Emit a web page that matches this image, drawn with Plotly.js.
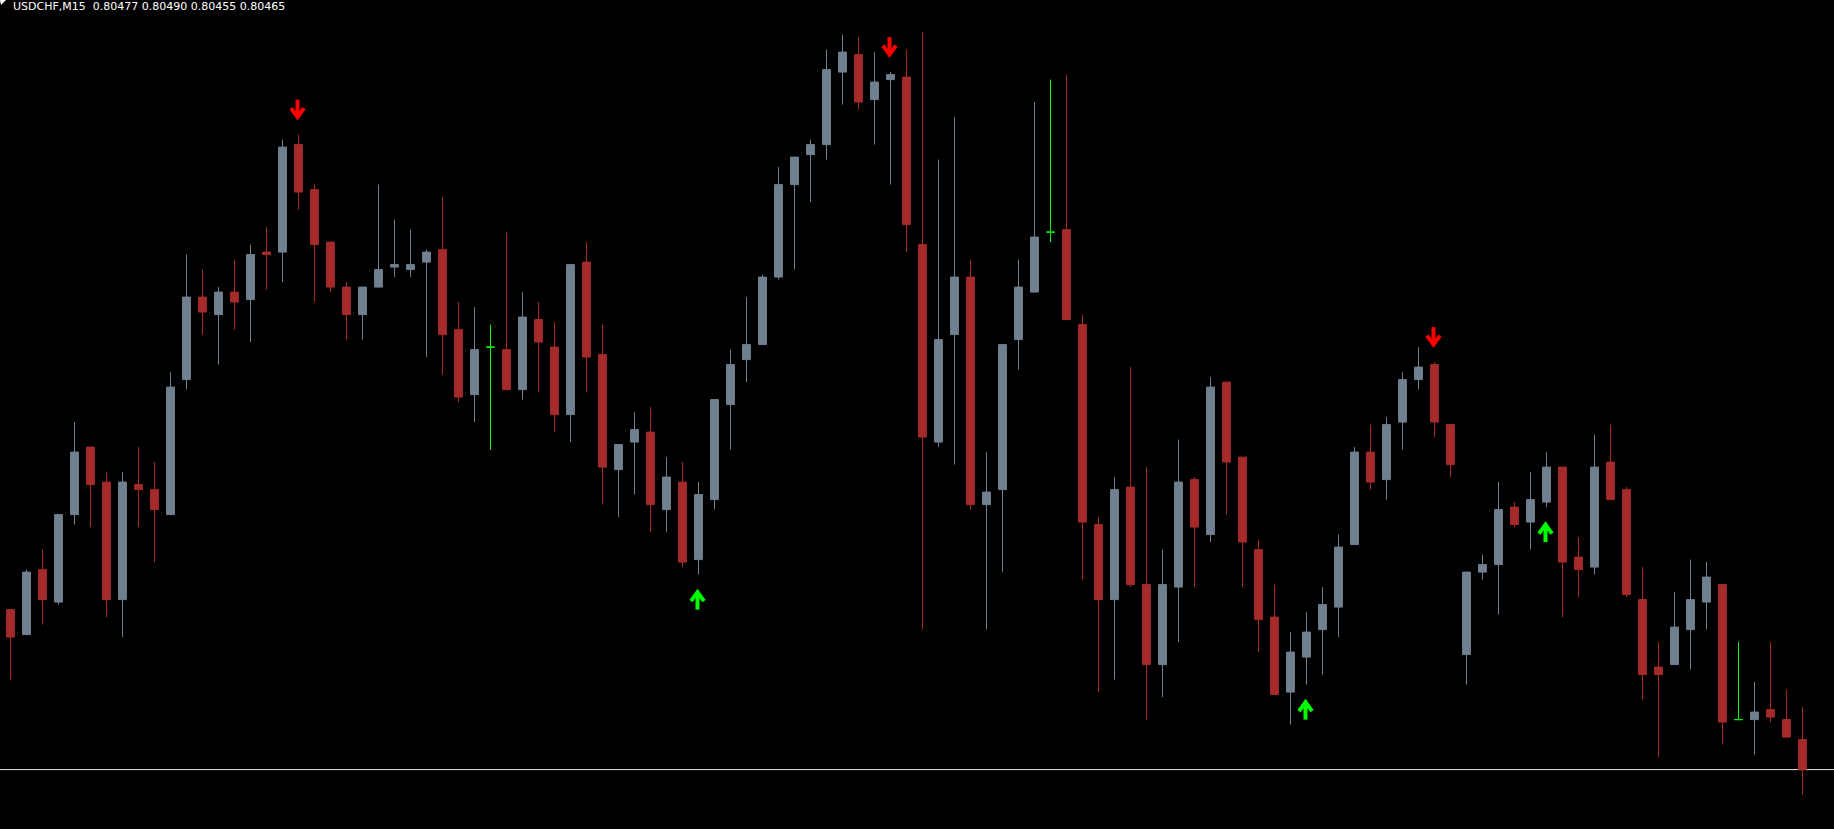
<!DOCTYPE html>
<html>
<head>
<meta charset="utf-8">
<script src="https://cdn.plot.ly/plotly-3.0.1.min.js"></script>
<style>
html,body{margin:0;padding:0;background:#000;overflow:hidden}
#chart{width:1834px;height:829px}
</style>
</head>
<body>
<div id="chart"></div>
<script>
// ---- data ----
const symbol = "USDCHF";
const timeframe = "M15";

const openPrices = [
0.80529,0.80519,0.80545,0.80532,0.80567,0.80594,0.80580,0.80533,0.80579,0.80577,
0.80567,0.80621,0.80654,0.80647,0.80656,0.80653,0.80672,0.80672,0.80715,0.80697,
0.80676,0.80658,0.80647,0.80658,0.80666,0.80665,0.80668,0.80673,0.80641,0.80615,
0.80634,0.80633,0.80617,0.80645,0.80634,0.80607,0.80668,0.80631,0.80585,0.80596,
0.80600,0.80569,0.80580,0.80549,0.80573,0.80611,0.80629,0.80635,0.80662,0.80699,
0.80711,0.80715,0.80744,0.80751,0.80733,0.80741,0.80742,0.80675,0.80596,0.80639,
0.80662,0.80571,0.80577,0.80637,0.80656,0.80680,0.80681,0.80643,0.80563,0.80533,
0.80578,0.80539,0.80507,0.80538,0.80581,0.80559,0.80620,0.80590,0.80553,0.80526,
0.80496,0.80510,0.80521,0.80530,0.80555,0.80592,0.80581,0.80604,0.80621,0.80627,
0.80603,0.80511,0.80544,0.80547,0.80570,0.80564,0.80572,0.80586,0.80550,0.80546,
0.80588,0.80577,0.80533,0.80506,0.80507,0.80521,0.80532,0.80539,0.80485,0.80485,
0.80489,0.80485,0.80477];
const highPrices = [
0.80529,0.80545,0.80553,0.80567,0.80604,0.80594,0.80584,0.80584,0.80594,0.80588,
0.80624,0.80671,0.80665,0.80658,0.80669,0.80675,0.80682,0.80717,0.80719,0.80699,
0.80676,0.80660,0.80658,0.80699,0.80685,0.80681,0.80673,0.80694,0.80652,0.80650,
0.80643,0.80680,0.80656,0.80652,0.80644,0.80667,0.80676,0.80643,0.80595,0.80608,
0.80610,0.80590,0.80588,0.80580,0.80613,0.80633,0.80654,0.80663,0.80706,0.80710,
0.80717,0.80753,0.80759,0.80758,0.80752,0.80744,0.80753,0.80760,0.80709,0.80726,
0.80669,0.80592,0.80635,0.80669,0.80732,0.80741,0.80743,0.80647,0.80566,0.80582,
0.80626,0.80586,0.80553,0.80597,0.80582,0.80622,0.80620,0.80590,0.80557,0.80539,
0.80520,0.80528,0.80538,0.80559,0.80594,0.80603,0.80606,0.80624,0.80634,0.80628,
0.80603,0.80544,0.80551,0.80580,0.80572,0.80584,0.80592,0.80586,0.80558,0.80599,
0.80603,0.80578,0.80546,0.80516,0.80536,0.80549,0.80548,0.80539,0.80516,0.80500,
0.80516,0.80497,0.80490];
const lowPrices = [
0.80501,0.80519,0.80523,0.80531,0.80563,0.80562,0.80526,0.80518,0.80562,0.80548,
0.80567,0.80617,0.80639,0.80627,0.80641,0.80636,0.80657,0.80660,0.80689,0.80652,
0.80656,0.80637,0.80637,0.80658,0.80662,0.80662,0.80630,0.80623,0.80612,0.80604,
0.80593,0.80617,0.80613,0.80616,0.80600,0.80596,0.80616,0.80571,0.80566,0.80575,
0.80560,0.80560,0.80546,0.80543,0.80569,0.80593,0.80620,0.80635,0.80661,0.80665,
0.80692,0.80709,0.80731,0.80729,0.80715,0.80699,0.80672,0.80521,0.80594,0.80587,
0.80569,0.80521,0.80544,0.80625,0.80656,0.80676,0.80645,0.80541,0.80496,0.80501,
0.80538,0.80485,0.80494,0.80516,0.80538,0.80556,0.80567,0.80538,0.80512,0.80495,
0.80483,0.80499,0.80503,0.80518,0.80555,0.80577,0.80573,0.80593,0.80617,0.80598,
0.80582,0.80499,0.80541,0.80527,0.80562,0.80553,0.80570,0.80526,0.80534,0.80543,
0.80573,0.80534,0.80493,0.80470,0.80507,0.80505,0.80521,0.80475,0.80485,0.80471,
0.80484,0.80478,0.80455];
const closePrices = [
0.80518,0.80544,0.80533,0.80567,0.80592,0.80579,0.80533,0.80580,0.80577,0.80569,
0.80618,0.80654,0.80648,0.80656,0.80652,0.80671,0.80671,0.80714,0.80696,0.80675,
0.80658,0.80647,0.80658,0.80665,0.80667,0.80667,0.80672,0.80639,0.80614,0.80633,
0.80634,0.80617,0.80646,0.80636,0.80607,0.80667,0.80630,0.80586,0.80595,0.80601,
0.80571,0.80582,0.80548,0.80575,0.80613,0.80627,0.80635,0.80662,0.80699,0.80710,
0.80715,0.80745,0.80752,0.80732,0.80740,0.80743,0.80683,0.80598,0.80637,0.80662,
0.80571,0.80576,0.80635,0.80658,0.80678,0.80680,0.80645,0.80564,0.80533,0.80577,
0.80539,0.80507,0.80539,0.80580,0.80562,0.80618,0.80588,0.80556,0.80525,0.80495,
0.80512,0.80520,0.80531,0.80554,0.80592,0.80580,0.80603,0.80621,0.80626,0.80604,
0.80587,0.80544,0.80547,0.80569,0.80563,0.80573,0.80586,0.80548,0.80545,0.80586,
0.80573,0.80535,0.80503,0.80503,0.80522,0.80533,0.80542,0.80484,0.80485,0.80488,
0.80486,0.80478,0.80465];

// signal arrows (bar indices)
const sellSignals = [18, 55, 89];
const buySignals = [43, 81, 96];

// ---- styling / layout constants ----
const W = 1834, H = 829;
const barPx = 16, firstBarPx = 10.5;
const yMin = 0.8044124, yMax = 0.8077284;
const pricePerPx = (yMax - yMin) / H;
const bullColor = '#708090', bearColor = '#A52A2A', dojiColor = '#00FF00';

const n = openPrices.length;
const idx = openPrices.map((_, i) => i);
const normal = idx.filter(i => openPrices[i] !== closePrices[i]);
const doji = idx.filter(i => openPrices[i] === closePrices[i]);
const pick = (arr, ids) => ids.map(i => arr[i]);

const candles = {
  type: 'candlestick',
  x: normal,
  open: pick(openPrices, normal), high: pick(highPrices, normal),
  low: pick(lowPrices, normal), close: pick(closePrices, normal),
  increasing: {line: {color: bullColor, width: 1}, fillcolor: bullColor},
  decreasing: {line: {color: bearColor, width: 1}, fillcolor: bearColor},
  whiskerwidth: 0, hoverinfo: 'none', showlegend: false
};
const dojis = {
  type: 'candlestick',
  x: doji,
  open: pick(openPrices, doji), high: pick(highPrices, doji),
  low: pick(lowPrices, doji), close: pick(closePrices, doji),
  increasing: {line: {color: dojiColor, width: 1}, fillcolor: dojiColor},
  decreasing: {line: {color: dojiColor, width: 1}, fillcolor: dojiColor},
  whiskerwidth: 0, hoverinfo: 'none', showlegend: false
};

// arrows geometry (pixel sizes converted through the axis scales)
const gap = 17.5 * pricePerPx, len = 17.5 * pricePerPx, chev = 9 * pricePerPx;
const half = 6.5 / barPx, xShift = -1 / barPx;
function arrowTrace(ids, dir, color) {
  const xs = [], ys = [];
  ids.forEach(i => {
    let tip, tail, arm;
    if (dir === 'down') { tip = highPrices[i] + gap; tail = tip + len; arm = tip + chev; }
    else { tip = lowPrices[i] - gap; tail = tip - len; arm = tip - chev; }
    const c = i + xShift;
    xs.push(c - half, c, c + half, null, c, c, null);
    ys.push(arm, tip, arm, null, tip, tail, null);
  });
  return {type: 'scatter', mode: 'lines', x: xs, y: ys,
    line: {color: color, width: 4}, hoverinfo: 'skip', showlegend: false};
}

const last = n - 1;
const f5 = v => v.toFixed(5);
const header = `${symbol},${timeframe}\u00a0\u00a0${f5(openPrices[last])} ${f5(highPrices[last])} ${f5(lowPrices[last])} ${f5(closePrices[last])}`;

const layout = {
  width: W, height: H,
  margin: {l: 0, r: 0, t: 0, b: 0, pad: 0},
  paper_bgcolor: '#000000', plot_bgcolor: '#000000',
  showlegend: false,
  xaxis: {range: [-firstBarPx / barPx, (W - firstBarPx) / barPx], visible: false,
          showgrid: false, zeroline: false, rangeslider: {visible: false}, fixedrange: true},
  yaxis: {range: [yMin, yMax], visible: false, showgrid: false, zeroline: false, fixedrange: true},
  shapes: [
    {type: 'line', xref: 'paper', x0: 0, x1: 1, yref: 'y',
     y0: closePrices[last], y1: closePrices[last],
     line: {color: '#E6E6E6', width: 1}, layer: 'below'},
    {type: 'path', xref: 'paper', yref: 'paper', xsizemode: 'pixel', ysizemode: 'pixel',
     xanchor: 0, yanchor: 1, path: 'M0,0 L6,0 L1,-5 Z',
     fillcolor: '#FFFFFF', line: {width: 0}}
  ],
  annotations: [
    {xref: 'paper', yref: 'paper', x: 0, y: 1, xanchor: 'left', yanchor: 'top',
     xshift: 11, yshift: 2, showarrow: false, text: header,
     font: {family: 'DejaVu Sans', size: 11, color: '#FFFFFF'}}
  ]
};

Plotly.newPlot('chart', [candles, dojis,
  arrowTrace(sellSignals, 'down', '#FF0000'),
  arrowTrace(buySignals, 'up', '#00FF00')], layout,
  {displayModeBar: false, staticPlot: true});
</script>
</body>
</html>
